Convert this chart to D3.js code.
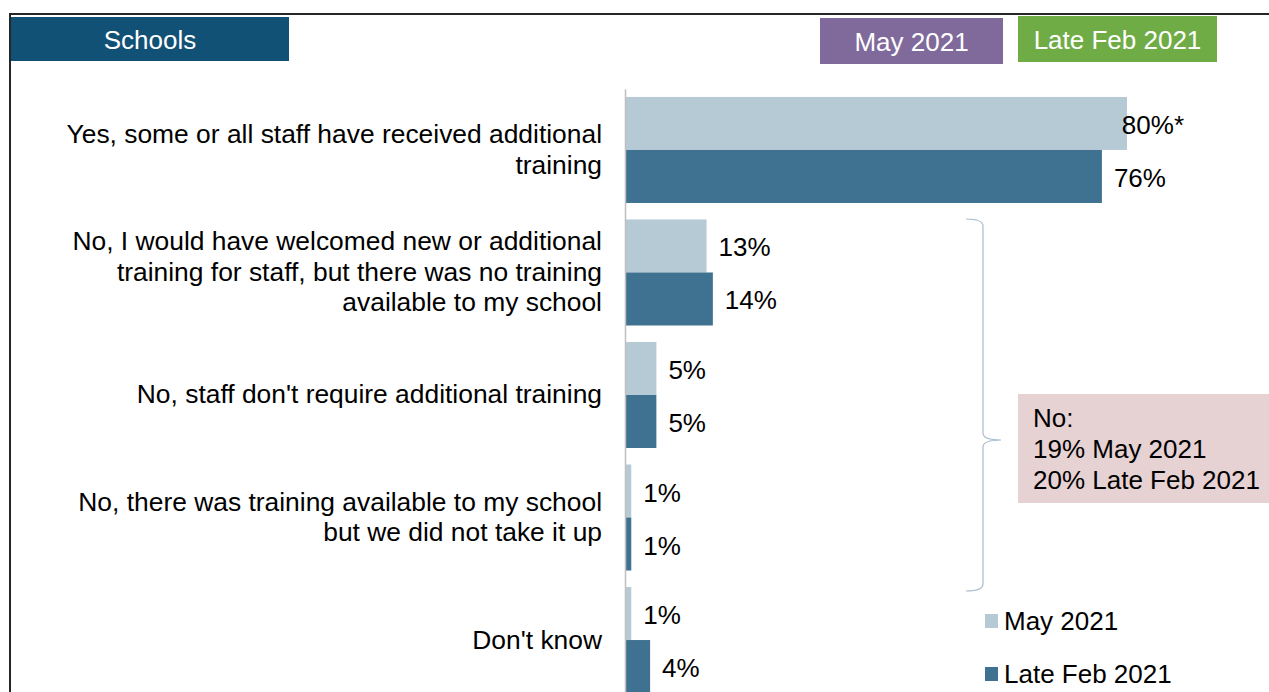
<!DOCTYPE html>
<html>
<head>
<meta charset="utf-8">
<script src="https://cdn.jsdelivr.net/npm/d3@7"></script>
<style>
  html, body { margin: 0; padding: 0; background: #fff; }
  svg { display: block; }
  text { font-family: "Liberation Sans", Arial, Helvetica, sans-serif; }
</style>
</head>
<body>
<svg id="chart" width="1269" height="692"></svg>
<script>
// Survey answers (label lines as wrapped in the chart)
const categories = [
  "Yes, some or all staff have received additional training",
  "No, I would have welcomed new or additional training for staff, but there was no training available to my school",
  "No, staff don't require additional training",
  "No, there was training available to my school but we did not take it up",
  "Don't know"
];
const categoryLines = [
  ["Yes, some or all staff have received additional", "training"],
  ["No, I would have welcomed new or additional", "training for staff, but there was no training", "available to my school"],
  ["No, staff don't require additional training"],
  ["No, there was training available to my school", "but we did not take it up"],
  ["Don't know"]
];
const seriesNames = ["May 2021", "Late Feb 2021"];
const may2021 = [80, 13, 5, 1, 1];
const lateFeb2021 = [76, 14, 5, 1, 4];
const may2021Flags = ["*", "", "", "", ""];
const lateFeb2021Flags = ["", "", "", "", ""];
const noSummary = ["No:", "19% May 2021", "20% Late Feb 2021"];

const colors = { "May 2021": "#b6cad6", "Late Feb 2021": "#3f7190" };

const svg = d3.select("#chart");
const fontSize = 26;
const catFontSize = 26.4;

// Frame lines
svg.append("line").attr("x1", 9).attr("x2", 1269).attr("y1", 14).attr("y2", 14)
  .attr("stroke", "#262626").attr("stroke-width", 2);
svg.append("line").attr("x1", 10).attr("x2", 10).attr("y1", 13).attr("y2", 692)
  .attr("stroke", "#262626").attr("stroke-width", 2);

// Header tags
const tags = [
  { text: "Schools", x: 11, y: 17, w: 278, h: 44, fill: "#125176" },
  { text: "May 2021", x: 820, y: 18, w: 183, h: 46, fill: "#7f6a9b" },
  { text: "Late Feb 2021", x: 1018, y: 16, w: 199, h: 46, fill: "#70ac46" }
];
const tagG = svg.append("g").selectAll("g").data(tags).join("g");
tagG.append("rect").attr("x", d => d.x).attr("y", d => d.y)
  .attr("width", d => d.w).attr("height", d => d.h).attr("fill", d => d.fill);
tagG.append("text").attr("x", d => d.x + d.w / 2).attr("y", d => d.y + d.h / 2 + 1)
  .attr("text-anchor", "middle").attr("dominant-baseline", "central")
  .attr("fill", "#fff").attr("font-size", fontSize).text(d => d.text);

// Scales
const x = d3.scaleLinear().domain([0, 100]).range([625, 1252.5]);
const y = d3.scaleBand().domain(categories).range([88.75, 701.25])
  .paddingInner(0.1347).paddingOuter(0.067);
const ySeries = d3.scaleBand().domain(seriesNames).range([0, y.bandwidth()]);

const rows = categories.map((c, i) => ({
  cat: c,
  lines: categoryLines[i],
  values: [
    { series: "May 2021", v: may2021[i], flag: may2021Flags[i] },
    { series: "Late Feb 2021", v: lateFeb2021[i], flag: lateFeb2021Flags[i] }
  ]
}));

// Bars
const groups = svg.append("g").selectAll("g").data(rows).join("g")
  .attr("transform", d => `translate(0,${y(d.cat)})`);

groups.selectAll("rect").data(d => d.values).join("rect")
  .attr("x", x(0))
  .attr("y", d => ySeries(d.series))
  .attr("width", d => x(d.v) - x(0))
  .attr("height", ySeries.bandwidth())
  .attr("fill", d => colors[d.series]);

// Value labels (kept inside the plot's right edge)
const labelRight = 1184;
groups.selectAll("text.val").data(d => d.values).join("text")
  .attr("class", "val")
  .attr("font-size", fontSize).attr("fill", "#000")
  .attr("dominant-baseline", "central")
  .attr("y", d => ySeries(d.series) + ySeries.bandwidth() / 2 + 1.5)
  .text(d => d.v + "%" + d.flag)
  .attr("x", function (d) {
    const w = this.getComputedTextLength();
    return Math.min(x(d.v) + 12, labelRight - w);
  });

// Category axis line
const axis = d3.axisLeft(y).tickSize(0).tickFormat("");
svg.append("g").attr("transform", `translate(${x(0)},0)`).call(axis)
  .call(g => g.select(".domain").attr("stroke", "#bfbfbf").attr("stroke-width", 1.5));

// Category labels
const lineH = 30.5;
groups.append("text")
  .attr("text-anchor", "end").attr("font-size", catFontSize).attr("fill", "#000")
  .each(function (d) {
    const t = d3.select(this);
    const n = d.lines.length;
    d.lines.forEach((ln, k) => {
      t.append("tspan").attr("x", 602)
        .attr("y", y.bandwidth() / 2 + (k - (n - 1) / 2) * lineH - 0.5)
        .attr("dominant-baseline", "central")
        .text(ln);
    });
  });

// Brace grouping the "No" answers
const bTop = 219, bBot = 591, bTip = 440, bx0 = 966, bx1 = 983, bx2 = 1001;
const p = d3.path();
p.moveTo(bx0, bTop);
p.quadraticCurveTo(bx1, bTop, bx1, bTop + 7);
p.lineTo(bx1, bTip - 7);
p.quadraticCurveTo(bx1, bTip, bx2, bTip);
p.quadraticCurveTo(bx1, bTip, bx1, bTip + 7);
p.lineTo(bx1, bBot - 7);
p.quadraticCurveTo(bx1, bBot, bx0, bBot);
svg.append("path").attr("d", p.toString()).attr("fill", "none")
  .attr("stroke", "#a9bccb").attr("stroke-width", 1.2);

// Summary box for the "No" answers
svg.append("rect").attr("x", 1018).attr("y", 394).attr("width", 251).attr("height", 109)
  .attr("fill", "#e6d1d3");
svg.append("text").attr("font-size", fontSize).attr("fill", "#000")
  .selectAll("tspan").data(noSummary).join("tspan")
  .attr("x", 1033).attr("y", (d, i) => 418 + i * 31)
  .attr("dominant-baseline", "central").text(d => d);

// Legend
const legend = svg.append("g").selectAll("g").data(seriesNames).join("g")
  .attr("transform", (d, i) => `translate(985,${621 + i * 53})`);
legend.append("rect").attr("x", 0).attr("y", -7).attr("width", 13).attr("height", 14)
  .attr("fill", d => colors[d]);
legend.append("text").attr("x", 19).attr("y", 0).attr("dominant-baseline", "central")
  .attr("font-size", fontSize).attr("fill", "#000").text(d => d);
</script>
</body>
</html>
